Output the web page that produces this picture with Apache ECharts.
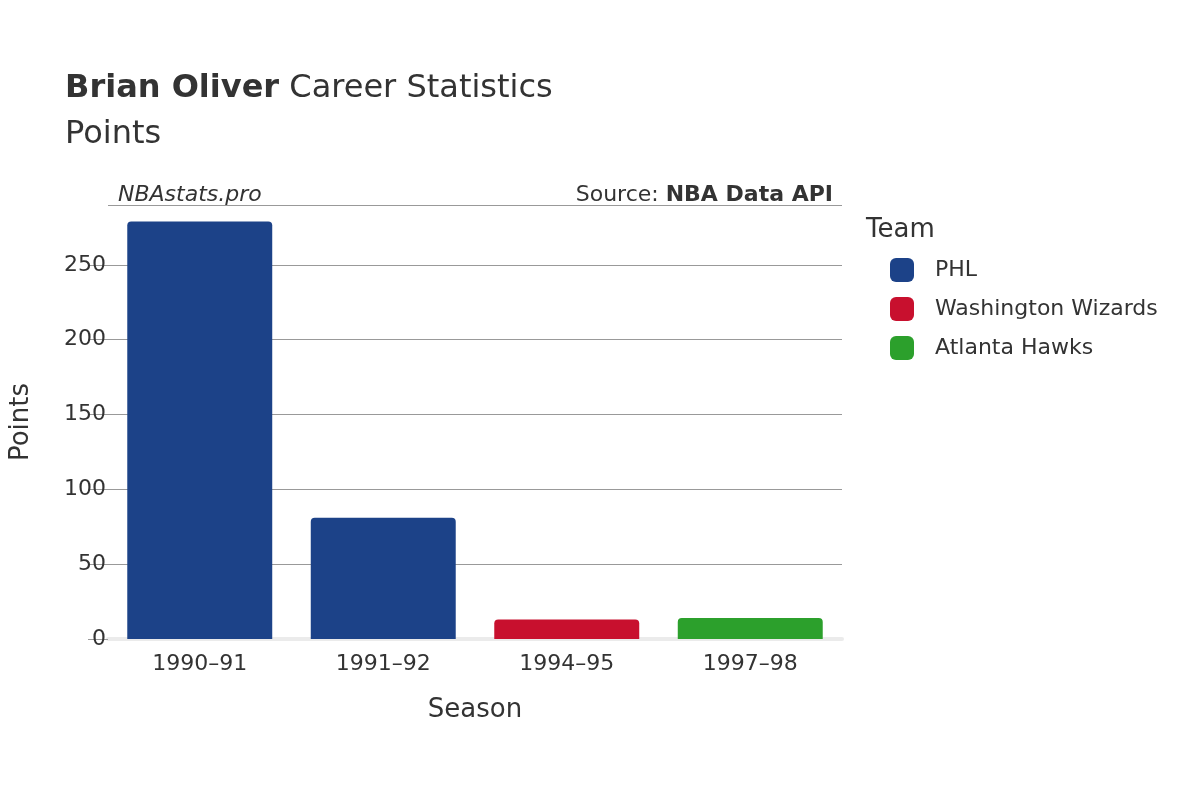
<!DOCTYPE html>
<html>
<head>
<meta charset="utf-8">
<script src="https://cdn.jsdelivr.net/npm/echarts@6/dist/echarts.min.js"></script>
<style>html,body{margin:0;padding:0;background:#fff}#chart{width:1200px;height:800px}</style>
</head>
<body>
<div id="chart"></div>
<script>
var seasons = ["1990–91", "1991–92", "1994–95", "1997–98"];
var teams = ["PHL", "Washington Wizards", "Atlanta Hawks"];
var colors = ["#1c4288", "#c8102e", "#2ca02c"];
var phl = [279, 81, null, null];
var wizards = [null, null, 13, null];
var hawks = [null, null, null, 14];
var yTicks = [0, 50, 100, 150, 200, 250];

var font = "DejaVu Sans";
var chart = echarts.init(document.getElementById("chart"));

var series = [phl, wizards, hawks].map(function (d, i) {
    return {
        name: teams[i],
        type: "bar",
        stack: "all",
        data: d,
        barWidth: "79%",
        itemStyle: {color: colors[i], borderRadius: [4, 4, 0, 0]}
    };
});

chart.setOption({
    textStyle: {fontFamily: font},
    animation: false,
    title: [
        {text: "{b|Brian Oliver} Career Statistics", left: 60, top: 68,
            textStyle: {rich: {b: {fontFamily: font, fontSize: 32, fontWeight: "bold", color: "#333"}},
                fontFamily: font, fontSize: 32, fontWeight: "normal", color: "#333"}},
        {text: "Points", left: 60, top: 114, textStyle: {fontFamily: font, fontSize: 32, fontWeight: "normal", color: "#333"}},
        {text: "NBAstats.pro", left: 113, top: 179, textStyle: {fontFamily: font, fontSize: 22, fontStyle: "italic", fontWeight: "normal", color: "#333"}},
        {text: "Source: {b|NBA Data API}", right: 362, top: 179,
            textStyle: {fontFamily: font, fontSize: 22, fontWeight: "normal", color: "#333",
                rich: {b: {fontFamily: font, fontSize: 22, fontWeight: "bold", color: "#333"}}}},
        {text: "Team", left: 861, top: 212, textStyle: {fontFamily: font, fontSize: 26, fontWeight: "normal", color: "#333"}}
    ],
    legend: {
        orient: "vertical", left: 885, top: 253, itemGap: 15,
        itemWidth: 24, itemHeight: 24, icon: "roundRect",
        textStyle: {fontFamily: font, fontSize: 22, color: "#333", padding: [0, 0, 0, 16]},
        data: teams
    },
    grid: {left: 108, right: 358, top: 205, bottom: 161},
    xAxis: {
        type: "category", data: seasons,
        name: "Season", nameLocation: "middle", nameGap: 58,
        nameTextStyle: {fontFamily: font, fontSize: 26, color: "#333"},
        axisLine: {show: true, lineStyle: {color: "#ebebeb", width: 4}},
        axisTick: {show: false},
        axisLabel: {fontFamily: font, fontSize: 22, color: "#333", margin: 14}
    },
    yAxis: {
        type: "value", min: 0, max: 290, interval: 50,
        name: "Points", nameLocation: "middle", nameGap: 74,
        nameTextStyle: {fontFamily: font, fontSize: 26, color: "#333"},
        axisLine: {show: false},
        axisTick: {show: true, length: 20, lineStyle: {color: "#999"}},
        axisLabel: {fontFamily: font, fontSize: 22, color: "#333", margin: 2, showMaxLabel: false,
            formatter: function (v) { return yTicks.indexOf(v) >= 0 ? v : ""; }},
        splitLine: {lineStyle: {color: "#999", width: 1}}
    },
    series: series
});
</script>
</body>
</html>
